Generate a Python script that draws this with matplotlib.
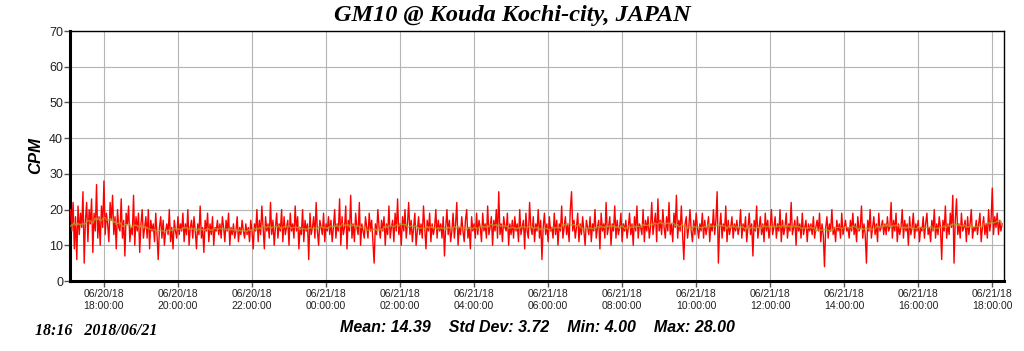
import numpy as np
import pandas as pd
import matplotlib
matplotlib.use("Agg")
from matplotlib import pyplot as plt
import matplotlib.dates as mdates

# counts per minute, one reading every 2 minutes, starting 06/20/18 17:06
cpm = [
    20, 14, 22, 9, 18, 6, 21, 13, 19, 15, 25, 5, 17, 22, 11, 20, 16, 23, 8, 19, 14, 27, 12, 18, 10, 21, 15, 28, 13, 19,
    16, 11, 22, 17, 24, 13, 18, 9, 20, 15, 14, 23, 12, 17, 7, 19, 16, 21, 11, 15, 13, 24, 10, 18, 14, 19, 8, 16, 20, 12,
    15, 18, 12, 20, 9, 17, 14, 16, 11, 19, 13, 6, 15, 18, 12, 17, 10, 14, 16, 13, 20, 11, 15, 9, 17, 14, 12, 18, 13, 16,
    14, 19, 11, 16, 13, 20, 10, 15, 17, 12, 18, 14, 9, 16, 13, 21, 12, 15, 8, 17, 14, 19, 11, 16, 13, 18, 10, 15, 14, 17,
    13, 16, 12, 18, 15, 11, 17, 14, 19, 10, 15, 13, 16, 12, 14, 18, 11, 15, 13, 17, 14, 12, 16, 13, 15, 11, 17, 14, 9, 16,
    14, 20, 11, 17, 13, 21, 15, 9, 18, 14, 16, 12, 22, 13, 17, 10, 15, 19, 12, 16, 14, 20, 11, 18, 13, 15, 17, 10, 19, 14,
    16, 12, 21, 14, 18, 9, 15, 13, 20, 11, 17, 14, 16, 6, 19, 13, 15, 18, 12, 22, 14, 10, 17, 15, 13, 19, 11, 16, 14, 18,
    13, 17, 11, 15, 20, 12, 16, 14, 23, 10, 18, 13, 15, 21, 9, 17, 14, 24, 12, 16, 11, 19, 15, 13, 22, 10, 16, 14, 12, 18,
    15, 12, 19, 14, 17, 11, 5, 16, 13, 20, 15, 12, 17, 14, 18, 10, 16, 13, 21, 12, 15, 17, 11, 19, 14, 23, 13, 16, 10, 18,
    14, 20, 12, 16, 22, 13, 17, 11, 15, 19, 10, 14, 18, 13, 16, 12, 21, 15, 9, 17, 14, 19, 11, 16, 13, 15, 20, 12, 17, 14,
    16, 12, 18, 7, 15, 20, 13, 17, 11, 14, 19, 12, 16, 22, 10, 15, 13, 18, 14, 11, 17, 20, 12, 15, 9, 18, 14, 16, 12, 19,
    13, 17, 15, 11, 19, 14, 16, 12, 21, 13, 15, 18, 10, 17, 14, 20, 12, 25, 13, 16, 11, 18, 15, 14, 19, 10, 16, 13, 17, 12,
    18, 14, 16, 11, 20, 13, 15, 17, 9, 19, 14, 12, 22, 15, 13, 18, 11, 16, 14, 20, 12, 17, 6, 15, 19, 13, 16, 11, 18, 14,
    15, 12, 19, 13, 17, 10, 16, 14, 21, 12, 15, 18, 13, 16, 11, 20, 25, 14, 17, 12, 15, 19, 11, 16, 13, 18, 14, 10, 17, 15,
    13, 18, 11, 16, 14, 20, 12, 15, 17, 9, 19, 14, 16, 12, 22, 13, 15, 18, 10, 16, 14, 21, 12, 17, 13, 15, 19, 11, 16, 14,
    17, 12, 15, 19, 13, 16, 10, 18, 14, 21, 12, 16, 15, 13, 20, 11, 17, 14, 18, 12, 15, 22, 13, 16, 19, 11, 23, 14, 17, 13,
    20, 15, 12, 18, 14, 22, 13, 16, 11, 19, 15, 24, 12, 17, 14, 21, 13, 6, 16, 18, 12, 15, 20, 14, 11, 17, 13, 19, 15, 12,
    16, 14, 19, 12, 17, 13, 15, 18, 11, 16, 14, 20, 13, 17, 25, 5, 15, 19, 12, 16, 14, 21, 11, 17, 13, 15, 18, 12, 16, 14,
    17, 13, 15, 20, 12, 16, 14, 18, 11, 15, 19, 13, 16, 7, 17, 14, 21, 12, 15, 18, 13, 16, 11, 19, 14, 17, 12, 15, 20, 13,
    15, 18, 12, 16, 14, 20, 11, 17, 13, 15, 19, 12, 16, 14, 22, 13, 15, 17, 10, 18, 14, 16, 12, 19, 13, 15, 17, 11, 16, 14,
    16, 13, 18, 12, 15, 17, 14, 19, 11, 16, 13, 4, 15, 18, 12, 16, 14, 20, 13, 15, 11, 17, 14, 16, 12, 19, 13, 15, 17, 14,
    15, 12, 17, 14, 19, 13, 16, 11, 18, 14, 15, 21, 12, 16, 13, 5, 17, 14, 20, 12, 15, 18, 13, 16, 11, 19, 14, 15, 17, 13,
    16, 13, 18, 14, 15, 22, 12, 17, 14, 19, 11, 16, 13, 15, 20, 12, 17, 14, 16, 10, 18, 13, 15, 19, 12, 16, 14, 17, 11, 15,
    14, 18, 12, 16, 19, 13, 15, 11, 17, 14, 20, 12, 16, 13, 18, 15, 6, 17, 14, 21, 12, 16, 13, 19, 15, 24, 5, 17, 23, 13,
    16, 12, 19, 14, 15, 17, 11, 18, 13, 16, 20, 12, 15, 14, 17, 13, 16, 19, 11, 15, 18, 13, 16, 12, 20, 14, 17, 26, 13, 18,
    15, 19, 13, 17, 14, 16,
]
t0 = pd.Timestamp("2018-06-20 17:06")
times = pd.date_range(t0, periods=len(cpm), freq="2min")

title = "GM10 @ Kouda Kochi-city, JAPAN"
stats = "Mean: 14.39    Std Dev: 3.72    Min: 4.00    Max: 28.00"
stamp = "18:16   2018/06/21"

series = pd.Series(cpm, index=times)
trend = series.rolling(15, center=True, min_periods=1).mean()

fig = plt.figure(figsize=(10.24, 3.51), dpi=100)
ax = fig.add_axes([70 / 1024, 70 / 351, 934 / 1024, 250 / 351])

ax.plot(times, cpm, color="#ff0000", lw=1.0, zorder=3)
ax.plot(times, trend.values, color="#b0a020", lw=1.0, alpha=0.8, zorder=4)

ax.set_xlim(pd.Timestamp("2018-06-20 17:05"), pd.Timestamp("2018-06-21 18:19"))
ax.set_ylim(0, 70)
ax.set_yticks(range(0, 71, 10))
ax.xaxis.set_major_locator(mdates.HourLocator(byhour=range(0, 24, 2)))
ax.xaxis.set_major_formatter(mdates.DateFormatter("%m/%d/%y\n%H:%M:%S"))

ax.grid(True, color="#b4b4b4", lw=0.8, zorder=0)
for side in ["left", "bottom"]:
    ax.spines[side].set_linewidth(2.2)
for side in ["top", "right"]:
    ax.spines[side].set_linewidth(1.0)

ax.tick_params(axis="both", length=4, width=1, color="#555555")
ax.tick_params(axis="y", labelsize=9, labelcolor="#222222", pad=1)
ax.tick_params(axis="x", labelsize=7.5, labelcolor="#222222", pad=2)
for lab in ax.get_xticklabels() + ax.get_yticklabels():
    lab.set_family("Liberation Sans")

ax.set_ylabel("CPM", fontsize=12, fontweight="bold", fontstyle="italic",
              family="Liberation Sans", labelpad=4)

fig.text(0.5, 1 - 16 / 351, title, ha="center", va="center", fontsize=17.5,
         fontweight="bold", fontstyle="italic", family="Liberation Serif")
fig.text(537 / 1024, 1 - 327 / 351, stats, ha="center", va="center", fontsize=11.5,
         fontweight="bold", fontstyle="italic", family="Liberation Sans")
fig.text(35 / 1024, 1 - 331 / 351, stamp, ha="left", va="center", fontsize=11.5,
         fontweight="bold", fontstyle="italic", family="Liberation Serif")

fig.savefig("out.png", dpi=100)
